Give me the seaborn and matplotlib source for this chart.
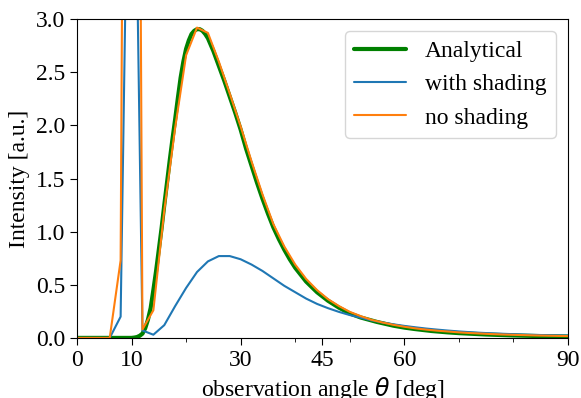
import matplotlib
matplotlib.use('Agg')
import matplotlib.pyplot as plt
import seaborn as sns
from matplotlib.ticker import FixedLocator, MultipleLocator

# analytical curve
theta_an = [0, 5, 9, 10, 10.5, 11, 11.5, 12, 12.5, 13, 13.5, 14, 14.5, 15, 15.5, 16, 16.5, 17, 17.5,
            18, 18.5, 19, 19.5, 20, 20.5, 21, 21.5, 22, 22.5, 23, 23.5, 24, 25, 26, 27, 28, 29, 30,
            31, 32, 33, 34, 35, 36, 37, 38, 39, 40, 42, 44, 46, 48, 50, 52, 55, 58, 60, 62, 65, 68,
            70, 75, 80, 85, 90]
I_an = [0, 0, 0, 0, 0.003, 0.008, 0.02, 0.04, 0.09, 0.17, 0.28, 0.45, 0.63, 0.83, 1.03, 1.25, 1.46,
        1.67, 1.87, 2.06, 2.26, 2.45, 2.6, 2.72, 2.8, 2.86, 2.89, 2.905, 2.905, 2.89, 2.86, 2.82, 2.7,
        2.56, 2.42, 2.27, 2.12, 1.96, 1.78, 1.62, 1.46, 1.31, 1.17, 1.04, 0.93, 0.83, 0.74, 0.66,
        0.53, 0.43, 0.35, 0.285, 0.23, 0.192, 0.15, 0.115, 0.097, 0.083, 0.065, 0.052, 0.045, 0.032,
        0.023, 0.017, 0.013]

# simulated curves, 2 deg grid
theta_sim = list(range(0, 91, 2))
I_shade = [0, 0, 0, 0, 0.2, 7.0, 0.07, 0.03, 0.12, 0.3, 0.47, 0.62, 0.72, 0.77, 0.77, 0.74, 0.69,
           0.63, 0.56, 0.49, 0.43, 0.37, 0.32, 0.28, 0.245, 0.215, 0.19, 0.165, 0.145, 0.128, 0.113,
           0.1, 0.088, 0.078, 0.069, 0.061, 0.054, 0.048, 0.043, 0.039, 0.035, 0.031, 0.028, 0.026,
           0.024, 0.022]
I_noshade = [0, 0, 0, 0, 0.73, 19.5, 0.08, 0.26, 1.2, 1.98, 2.66, 2.92, 2.87, 2.6, 2.3, 1.99, 1.66,
             1.35, 1.07, 0.86, 0.69, 0.555, 0.45, 0.365, 0.3, 0.245, 0.205, 0.17, 0.145, 0.123, 0.105,
             0.09, 0.078, 0.068, 0.06, 0.052, 0.046, 0.041, 0.036, 0.032, 0.029, 0.026, 0.023, 0.021,
             0.019, 0.017]

sns.set_style('ticks')
plt.rcParams['font.family'] = ['Liberation Serif', 'DejaVu Sans']
plt.rcParams['font.size'] = 17
plt.rcParams['text.color'] = 'black'
plt.rcParams['axes.labelcolor'] = 'black'

fig, ax = plt.subplots(figsize=(5.81, 3.98), dpi=100)
fig.subplots_adjust(left=0.1325, right=0.9776, top=0.952, bottom=0.151)

sns.lineplot(x=theta_an, y=I_an, ax=ax, color='green', lw=3, label='Analytical')
sns.lineplot(x=theta_sim, y=I_shade, ax=ax, color='#1f77b4', lw=1.5, label='with shading')
sns.lineplot(x=theta_sim, y=I_noshade, ax=ax, color='#ff7f0e', lw=1.5, label='no shading')

ax.set_xlim(0, 90)
ax.set_ylim(0, 3)
ax.xaxis.set_major_locator(FixedLocator([0, 10, 30, 45, 60, 90]))
ax.xaxis.set_minor_locator(MultipleLocator(10))
ax.yaxis.set_major_locator(MultipleLocator(0.5))
ax.tick_params(which='major', length=5, labelsize=17, colors='black')
ax.tick_params(which='minor', length=3, colors='black')
for s in ax.spines.values():
    s.set_color('black')
    s.set_visible(True)

ax.set_xlabel(r'observation angle $\theta$ [deg]', fontsize=17, labelpad=3)
ax.set_ylabel('Intensity [a.u.]', fontsize=17)
ax.legend(loc='upper right', fontsize=17, handlelength=2.2)

fig.savefig('out.png', dpi=100)
